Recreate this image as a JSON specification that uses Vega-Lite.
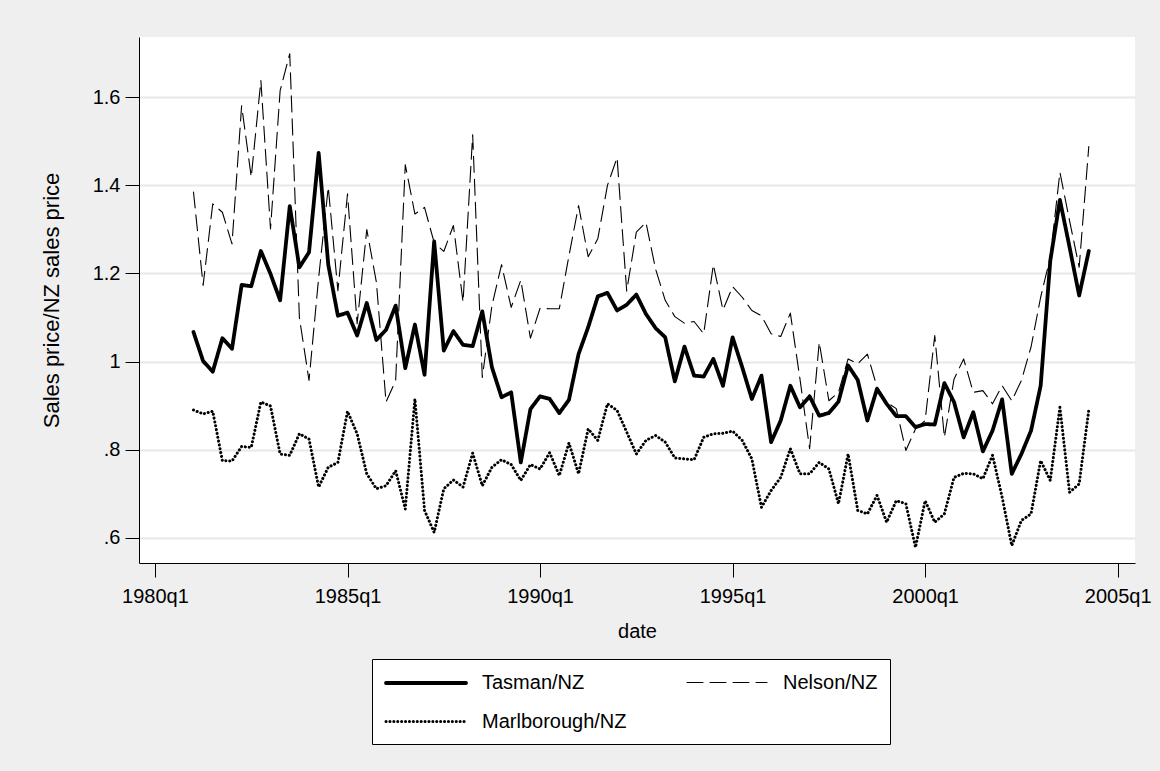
{
  "$schema": "https://vega.github.io/schema/vega-lite/v6.json",
  "width": 996,
  "height": 526,
  "autosize": {"type": "none"},
  "padding": {"left": 139, "top": 37, "right": 25, "bottom": 208},
  "background": "#EFEFEF",
  "config": {
    "view": {"fill": "white", "stroke": null},
    "font": "Liberation Sans",
    "legend": {
      "orient": "none",
      "legendX": 233,
      "legendY": 622,
      "columns": 2,
      "direction": "horizontal",
      "symbolType": "M-1,0H7",
      "symbolSize": 400,
      "symbolStrokeColor": "black",
      "labelFontSize": 20,
      "labelFont": "Liberation Sans",
      "labelColor": "black",
      "labelOffset": 74,
      "labelLimit": 400,
      "columnPadding": 57,
      "rowPadding": 17,
      "padding": 12,
      "strokeColor": "black",
      "strokeWidth": 1,
      "fillColor": "white",
      "cornerRadius": 0
    }
  },
  "data": {
    "values": [
      {"t": 4, "date": "1981q1", "Tasman": 1.067, "Nelson": 1.385, "Marlborough": 0.890},
      {"t": 5, "date": "1981q2", "Tasman": 1.001, "Nelson": 1.173, "Marlborough": 0.881},
      {"t": 6, "date": "1981q3", "Tasman": 0.977, "Nelson": 1.358, "Marlborough": 0.887},
      {"t": 7, "date": "1981q4", "Tasman": 1.053, "Nelson": 1.339, "Marlborough": 0.775},
      {"t": 8, "date": "1982q1", "Tasman": 1.029, "Nelson": 1.267, "Marlborough": 0.774},
      {"t": 9, "date": "1982q2", "Tasman": 1.174, "Nelson": 1.581, "Marlborough": 0.807},
      {"t": 10, "date": "1982q3", "Tasman": 1.171, "Nelson": 1.419, "Marlborough": 0.805},
      {"t": 11, "date": "1982q4", "Tasman": 1.251, "Nelson": 1.638, "Marlborough": 0.908},
      {"t": 12, "date": "1983q1", "Tasman": 1.199, "Nelson": 1.301, "Marlborough": 0.899},
      {"t": 13, "date": "1983q2", "Tasman": 1.139, "Nelson": 1.615, "Marlborough": 0.790},
      {"t": 14, "date": "1983q3", "Tasman": 1.353, "Nelson": 1.699, "Marlborough": 0.787},
      {"t": 15, "date": "1983q4", "Tasman": 1.214, "Nelson": 1.100, "Marlborough": 0.836},
      {"t": 16, "date": "1984q1", "Tasman": 1.248, "Nelson": 0.957, "Marlborough": 0.824},
      {"t": 17, "date": "1984q2", "Tasman": 1.474, "Nelson": 1.190, "Marlborough": 0.715},
      {"t": 18, "date": "1984q3", "Tasman": 1.220, "Nelson": 1.396, "Marlborough": 0.760},
      {"t": 19, "date": "1984q4", "Tasman": 1.104, "Nelson": 1.161, "Marlborough": 0.771},
      {"t": 20, "date": "1985q1", "Tasman": 1.111, "Nelson": 1.381, "Marlborough": 0.887},
      {"t": 21, "date": "1985q2", "Tasman": 1.059, "Nelson": 1.086, "Marlborough": 0.836},
      {"t": 22, "date": "1985q3", "Tasman": 1.133, "Nelson": 1.300, "Marlborough": 0.745},
      {"t": 23, "date": "1985q4", "Tasman": 1.049, "Nelson": 1.180, "Marlborough": 0.711},
      {"t": 24, "date": "1986q1", "Tasman": 1.072, "Nelson": 0.908, "Marlborough": 0.718},
      {"t": 25, "date": "1986q2", "Tasman": 1.127, "Nelson": 0.957, "Marlborough": 0.752},
      {"t": 26, "date": "1986q3", "Tasman": 0.985, "Nelson": 1.447, "Marlborough": 0.665},
      {"t": 27, "date": "1986q4", "Tasman": 1.084, "Nelson": 1.335, "Marlborough": 0.915},
      {"t": 28, "date": "1987q1", "Tasman": 0.970, "Nelson": 1.350, "Marlborough": 0.662},
      {"t": 29, "date": "1987q2", "Tasman": 1.273, "Nelson": 1.270, "Marlborough": 0.612},
      {"t": 30, "date": "1987q3", "Tasman": 1.025, "Nelson": 1.250, "Marlborough": 0.711},
      {"t": 31, "date": "1987q4", "Tasman": 1.069, "Nelson": 1.309, "Marlborough": 0.731},
      {"t": 32, "date": "1988q1", "Tasman": 1.038, "Nelson": 1.135, "Marlborough": 0.715},
      {"t": 33, "date": "1988q2", "Tasman": 1.035, "Nelson": 1.515, "Marlborough": 0.792},
      {"t": 34, "date": "1988q3", "Tasman": 1.114, "Nelson": 0.964, "Marlborough": 0.718},
      {"t": 35, "date": "1988q4", "Tasman": 0.987, "Nelson": 1.127, "Marlborough": 0.760},
      {"t": 36, "date": "1989q1", "Tasman": 0.919, "Nelson": 1.220, "Marlborough": 0.777},
      {"t": 37, "date": "1989q2", "Tasman": 0.930, "Nelson": 1.123, "Marlborough": 0.766},
      {"t": 38, "date": "1989q3", "Tasman": 0.771, "Nelson": 1.185, "Marlborough": 0.730},
      {"t": 39, "date": "1989q4", "Tasman": 0.892, "Nelson": 1.053, "Marlborough": 0.766},
      {"t": 40, "date": "1990q1", "Tasman": 0.921, "Nelson": 1.121, "Marlborough": 0.756},
      {"t": 41, "date": "1990q2", "Tasman": 0.915, "Nelson": 1.120, "Marlborough": 0.793},
      {"t": 42, "date": "1990q3", "Tasman": 0.883, "Nelson": 1.120, "Marlborough": 0.741},
      {"t": 43, "date": "1990q4", "Tasman": 0.913, "Nelson": 1.240, "Marlborough": 0.815},
      {"t": 44, "date": "1991q1", "Tasman": 1.017, "Nelson": 1.354, "Marlborough": 0.745},
      {"t": 45, "date": "1991q2", "Tasman": 1.078, "Nelson": 1.238, "Marlborough": 0.847},
      {"t": 46, "date": "1991q3", "Tasman": 1.148, "Nelson": 1.279, "Marlborough": 0.821},
      {"t": 47, "date": "1991q4", "Tasman": 1.156, "Nelson": 1.400, "Marlborough": 0.904},
      {"t": 48, "date": "1992q1", "Tasman": 1.116, "Nelson": 1.463, "Marlborough": 0.889},
      {"t": 49, "date": "1992q2", "Tasman": 1.129, "Nelson": 1.160, "Marlborough": 0.840},
      {"t": 50, "date": "1992q3", "Tasman": 1.152, "Nelson": 1.294, "Marlborough": 0.790},
      {"t": 51, "date": "1992q4", "Tasman": 1.108, "Nelson": 1.316, "Marlborough": 0.821},
      {"t": 52, "date": "1993q1", "Tasman": 1.076, "Nelson": 1.210, "Marlborough": 0.832},
      {"t": 53, "date": "1993q2", "Tasman": 1.055, "Nelson": 1.139, "Marlborough": 0.817},
      {"t": 54, "date": "1993q3", "Tasman": 0.955, "Nelson": 1.102, "Marlborough": 0.781},
      {"t": 55, "date": "1993q4", "Tasman": 1.034, "Nelson": 1.087, "Marlborough": 0.779},
      {"t": 56, "date": "1994q1", "Tasman": 0.968, "Nelson": 1.091, "Marlborough": 0.777},
      {"t": 57, "date": "1994q2", "Tasman": 0.966, "Nelson": 1.063, "Marlborough": 0.828},
      {"t": 58, "date": "1994q3", "Tasman": 1.006, "Nelson": 1.220, "Marlborough": 0.836},
      {"t": 59, "date": "1994q4", "Tasman": 0.945, "Nelson": 1.117, "Marlborough": 0.837},
      {"t": 60, "date": "1995q1", "Tasman": 1.055, "Nelson": 1.170, "Marlborough": 0.842},
      {"t": 61, "date": "1995q2", "Tasman": 0.987, "Nelson": 1.146, "Marlborough": 0.821},
      {"t": 62, "date": "1995q3", "Tasman": 0.915, "Nelson": 1.116, "Marlborough": 0.779},
      {"t": 63, "date": "1995q4", "Tasman": 0.968, "Nelson": 1.104, "Marlborough": 0.669},
      {"t": 64, "date": "1996q1", "Tasman": 0.817, "Nelson": 1.063, "Marlborough": 0.707},
      {"t": 65, "date": "1996q2", "Tasman": 0.866, "Nelson": 1.057, "Marlborough": 0.737},
      {"t": 66, "date": "1996q3", "Tasman": 0.945, "Nelson": 1.110, "Marlborough": 0.802},
      {"t": 67, "date": "1996q4", "Tasman": 0.896, "Nelson": 0.960, "Marlborough": 0.745},
      {"t": 68, "date": "1997q1", "Tasman": 0.921, "Nelson": 0.802, "Marlborough": 0.745},
      {"t": 69, "date": "1997q2", "Tasman": 0.877, "Nelson": 1.044, "Marlborough": 0.771},
      {"t": 70, "date": "1997q3", "Tasman": 0.883, "Nelson": 0.911, "Marlborough": 0.756},
      {"t": 71, "date": "1997q4", "Tasman": 0.909, "Nelson": 0.930, "Marlborough": 0.677},
      {"t": 72, "date": "1998q1", "Tasman": 0.991, "Nelson": 1.006, "Marlborough": 0.790},
      {"t": 73, "date": "1998q2", "Tasman": 0.958, "Nelson": 0.995, "Marlborough": 0.662},
      {"t": 74, "date": "1998q3", "Tasman": 0.866, "Nelson": 1.017, "Marlborough": 0.654},
      {"t": 75, "date": "1998q4", "Tasman": 0.938, "Nelson": 0.942, "Marlborough": 0.696},
      {"t": 76, "date": "1999q1", "Tasman": 0.904, "Nelson": 0.908, "Marlborough": 0.635},
      {"t": 77, "date": "1999q2", "Tasman": 0.876, "Nelson": 0.893, "Marlborough": 0.684},
      {"t": 78, "date": "1999q3", "Tasman": 0.876, "Nelson": 0.798, "Marlborough": 0.677},
      {"t": 79, "date": "1999q4", "Tasman": 0.851, "Nelson": 0.847, "Marlborough": 0.578},
      {"t": 80, "date": "2000q1", "Tasman": 0.858, "Nelson": 0.866, "Marlborough": 0.684},
      {"t": 81, "date": "2000q2", "Tasman": 0.857, "Nelson": 1.059, "Marlborough": 0.635},
      {"t": 82, "date": "2000q3", "Tasman": 0.951, "Nelson": 0.828, "Marlborough": 0.654},
      {"t": 83, "date": "2000q4", "Tasman": 0.908, "Nelson": 0.960, "Marlborough": 0.737},
      {"t": 84, "date": "2001q1", "Tasman": 0.828, "Nelson": 1.006, "Marlborough": 0.746},
      {"t": 85, "date": "2001q2", "Tasman": 0.885, "Nelson": 0.930, "Marlborough": 0.745},
      {"t": 86, "date": "2001q3", "Tasman": 0.796, "Nelson": 0.934, "Marlborough": 0.734},
      {"t": 87, "date": "2001q4", "Tasman": 0.843, "Nelson": 0.904, "Marlborough": 0.787},
      {"t": 88, "date": "2002q1", "Tasman": 0.914, "Nelson": 0.945, "Marlborough": 0.692},
      {"t": 89, "date": "2002q2", "Tasman": 0.745, "Nelson": 0.911, "Marlborough": 0.582},
      {"t": 90, "date": "2002q3", "Tasman": 0.790, "Nelson": 0.957, "Marlborough": 0.639},
      {"t": 91, "date": "2002q4", "Tasman": 0.843, "Nelson": 1.033, "Marlborough": 0.654},
      {"t": 92, "date": "2003q1", "Tasman": 0.945, "Nelson": 1.146, "Marlborough": 0.775},
      {"t": 93, "date": "2003q2", "Tasman": 1.229, "Nelson": 1.237, "Marlborough": 0.730},
      {"t": 94, "date": "2003q3", "Tasman": 1.367, "Nelson": 1.430, "Marlborough": 0.896},
      {"t": 95, "date": "2003q4", "Tasman": 1.260, "Nelson": 1.320, "Marlborough": 0.703},
      {"t": 96, "date": "2004q1", "Tasman": 1.150, "Nelson": 1.214, "Marlborough": 0.722},
      {"t": 97, "date": "2004q2", "Tasman": 1.251, "Nelson": 1.488, "Marlborough": 0.890}
    ]
  },
  "transform": [
    {"fold": ["Tasman", "Nelson", "Marlborough"], "as": ["series", "value"]}
  ],
  "mark": {"type": "line", "color": "black", "strokeCap": "round", "strokeJoin": "round"},
  "encoding": {
    "x": {
      "field": "t",
      "type": "quantitative",
      "scale": {"domain": [-1.66, 101.8], "nice": false, "zero": false},
      "axis": {
        "values": [0, 20, 40, 60, 80, 100],
        "labelExpr": "(1980 + floor(datum.value / 4)) + 'q1'",
        "title": "date",
        "grid": false,
        "domainColor": "black",
        "domainWidth": 1,
        "tickColor": "black",
        "tickWidth": 1,
        "tickSize": 14,
        "labelFontSize": 20,
        "labelFont": "Liberation Sans",
        "labelColor": "black",
        "labelPadding": 9,
        "labelFlush": false,
        "titleFontSize": 20,
        "titleFont": "Liberation Sans",
        "titleFontWeight": "normal",
        "titleColor": "black",
        "titlePadding": 15
      }
    },
    "y": {
      "field": "value",
      "type": "quantitative",
      "scale": {"domain": [0.5425, 1.737], "nice": false, "zero": false},
      "axis": {
        "values": [0.6, 0.8, 1, 1.2, 1.4, 1.6],
        "labelExpr": "datum.value < 1 ? substring(format(datum.value, '.1f'), 1) : format(datum.value, '~g')",
        "title": "Sales price/NZ sales price",
        "grid": true,
        "gridColor": "#E8E8E8",
        "gridWidth": 2,
        "domainColor": "black",
        "domainWidth": 1,
        "tickColor": "black",
        "tickWidth": 1,
        "tickSize": 14,
        "labelFontSize": 20,
        "labelFont": "Liberation Sans",
        "labelColor": "black",
        "labelPadding": 5,
        "titleFontSize": 22,
        "titleFont": "Liberation Sans",
        "titleFontWeight": "normal",
        "titleColor": "black",
        "titlePadding": 29
      }
    },
    "strokeDash": {
      "field": "series",
      "type": "nominal",
      "scale": {"domain": ["Tasman", "Nelson", "Marlborough"], "range": [[1, 0], [16, 7], [0.1, 3.8]]},
      "legend": {
        "title": null,
        "labelExpr": "datum.label + '/NZ'",
        "encode": {"symbols": {"update": {"strokeCap": {"value": "round"}}}}
      }
    },
    "strokeWidth": {
      "field": "series",
      "type": "nominal",
      "scale": {"type": "ordinal", "domain": ["Tasman", "Nelson", "Marlborough"], "range": [3.8, 1.1, 3]},
      "legend": {
        "title": null,
        "labelExpr": "datum.label + '/NZ'",
        "encode": {"symbols": {"update": {"strokeCap": {"value": "round"}}}}
      }
    }
  }
}
